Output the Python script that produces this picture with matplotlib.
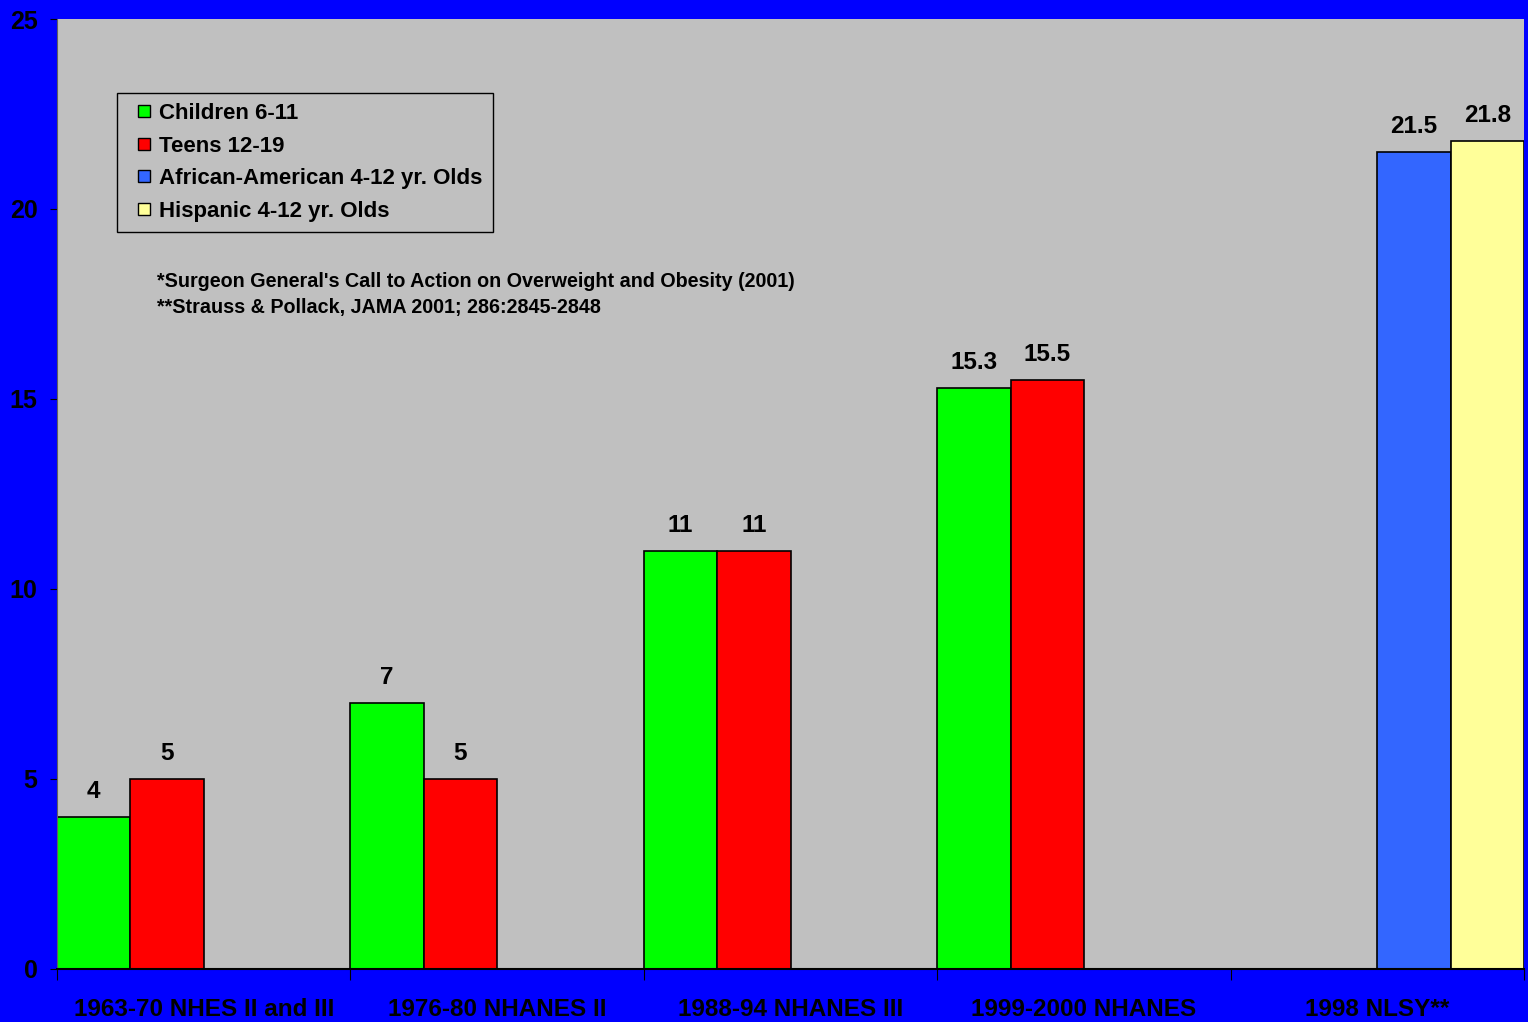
import matplotlib
matplotlib.use("Agg")
import matplotlib.pyplot as plt
import numpy as np
from matplotlib.lines import Line2D

# survey rounds along the x axis
surveys = ["1963-70 NHES II and III", "1976-80 NHANES II", "1988-94 NHANES III",
           "1999-2000 NHANES", "1998 NLSY**"]

# percent overweight per group (nan = not surveyed)
children = [4, 7, 11, 15.3, np.nan]
teens = [5, 5, 11, 15.5, np.nan]
african_american = [np.nan, np.nan, np.nan, np.nan, 21.5]
hispanic = [np.nan, np.nan, np.nan, np.nan, 21.8]

series_names = ["Children 6-11", "Teens 12-19", "African-American 4-12 yr. Olds",
                "Hispanic 4-12 yr. Olds"]
series_values = [children, teens, african_american, hispanic]
colors = ["#00FF00", "#FF0000", "#3366FF", "#FFFF99"]

plt.rcParams["font.family"] = ["Liberation Sans", "DejaVu Sans"]

fig = plt.figure(figsize=(15.28, 10.22), dpi=100, facecolor="#0000FF")
ax = fig.add_axes([0.0373, 0.0519, 0.9601, 0.9295])
ax.set_facecolor("#C0C0C0")

width = 0.25
x = np.arange(len(surveys))
for j, (vals, col) in enumerate(zip(series_values, colors)):
    left = x + j * width
    ax.bar(left, vals, width=width, align="edge", color=col,
           edgecolor="black", linewidth=1.2)
    for xi, v in zip(left, vals):
        if not np.isnan(v):
            ax.annotate(f"{v:g}", (xi + width / 2, v), xytext=(0, 10),
                        textcoords="offset points", ha="center", va="bottom",
                        fontsize=17.5, fontweight="bold")

ax.set_xlim(0, len(surveys))
ax.set_ylim(0, 25)
ax.set_yticks([0, 5, 10, 15, 20, 25])
ax.set_xticks(np.arange(len(surveys) + 1))
ax.set_xticklabels([])
ax.set_xticks(x + 0.5, minor=True)
ax.set_xticklabels(surveys, minor=True, fontsize=17.5, fontweight="bold")
ax.tick_params(axis="x", which="minor", length=0, pad=21)
ax.tick_params(axis="x", which="major", length=8, direction="out", color="black")
ax.tick_params(axis="y", length=5, direction="out", labelsize=18, pad=9,
               color="black")
for lbl in ax.get_yticklabels():
    lbl.set_fontweight("bold")

ax.spines["top"].set_visible(False)
ax.spines["right"].set_visible(False)
ax.spines["left"].set_color("#606060")
ax.spines["bottom"].set_color("black")
ax.spines["bottom"].set_linewidth(1.5)

# square swatches with a bit of room on the left, like the legend box
handles = [Line2D([], [], linestyle="none", marker="s", markersize=9,
                  markerfacecolor=c, markeredgecolor="black", markeredgewidth=1,
                  label=n)
           for c, n in zip(colors, series_names)]
leg = ax.legend(handles=handles, loc="upper left", bbox_to_anchor=(0.041, 0.922),
                borderaxespad=0, fancybox=False, framealpha=1,
                facecolor="#C0C0C0", edgecolor="black",
                prop={"size": 16, "weight": "bold"},
                handlelength=1.55, handletextpad=-0.1,
                labelspacing=0.52, borderpad=0.45)
leg.get_frame().set_linewidth(1)

ax.text(0.068, 0.724, "*Surgeon General's Call to Action on Overweight and Obesity (2001)",
        transform=ax.transAxes, fontsize=14.2, fontweight="bold", va="center")
ax.text(0.068, 0.696, "**Strauss & Pollack, JAMA 2001; 286:2845-2848",
        transform=ax.transAxes, fontsize=14.2, fontweight="bold", va="center")

fig.savefig("out.png", dpi=100, facecolor=fig.get_facecolor())
